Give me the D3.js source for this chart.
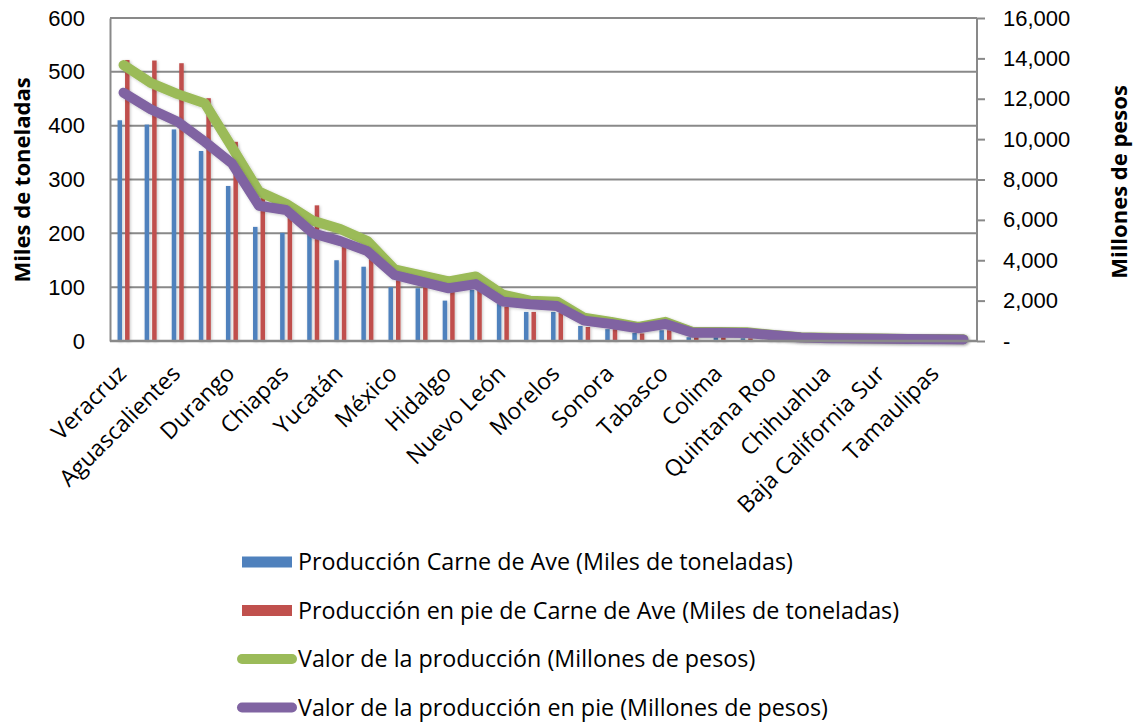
<!DOCTYPE html>
<html>
<head>
<meta charset="utf-8">
<script src="https://cdn.jsdelivr.net/npm/d3@7"></script>
<style>
  body { margin: 0; background: #fff; }
  svg { font-family: "Open Sans", sans-serif; }
</style>
</head>
<body>
<svg id="chart" width="1137" height="723"></svg>
<script>
// Producción de carne de ave por entidad
const states = ["Veracruz", "Jalisco", "Aguascalientes", "Querétaro", "Durango", "Guanajuato", "Chiapas", "Puebla",
    "Yucatán", "Sinaloa", "México", "San Luis Potosí", "Hidalgo", "Michoacán", "Nuevo León", "Coahuila",
    "Morelos", "Guerrero", "Sonora", "Oaxaca", "Tabasco", "Tlaxcala", "Colima", "Nayarit",
    "Quintana Roo", "Zacatecas", "Chihuahua", "Campeche", "Baja California Sur", "Baja California", "Tamaulipas", "Distrito Federal"];

const carne = [410, 402, 393, 353, 288, 212, 201, 200, 150, 138, 100, 98, 75, 95, 69, 54,
    54, 28, 22, 15, 20, 7, 7, 5, 4, 3, 2, 2, 1, 1, 1, 0.5];
const carnePie = [522, 521, 516, 451, 370, 266, 240, 252, 180, 160, 113, 100, 92, 96, 64, 54,
    52, 26, 22, 14, 20, 7, 7, 5, 4, 3, 2, 2, 1, 1, 1, 0.5];
const valor = [13670, 12790, 12230, 11770, 9600, 7400, 6800, 5950, 5550, 4950, 3550, 3250, 2950, 3200, 2300, 2000,
    1950, 1150, 950, 700, 950, 450, 450, 430, 300, 190, 160, 140, 125, 105, 95, 85];
const valorPie = [12300, 11480, 10860, 9870, 8800, 6700, 6490, 5330, 4950, 4450, 3270, 2940, 2610, 2820, 1950, 1820,
    1730, 1010, 840, 630, 840, 410, 410, 400, 280, 170, 140, 120, 110, 95, 85, 75];

const leftTicks = [0, 100, 200, 300, 400, 500, 600];
const rightTicks = [0, 2000, 4000, 6000, 8000, 10000, 12000, 14000, 16000];

const legendItems = [
    { label: "Producción Carne de Ave (Miles de toneladas)", color: "#4F81BD", type: "bar" },
    { label: "Producción en pie de Carne de Ave (Miles de toneladas)", color: "#C0504D", type: "bar" },
    { label: "Valor de la producción (Millones de pesos)", color: "#9BBB59", type: "line" },
    { label: "Valor de la producción en pie (Millones de pesos)", color: "#8064A2", type: "line" }
];

const plot = { left: 110, right: 977, top: 18, bottom: 341 };
const grey = "#898989";

const svg = d3.select("#chart");

const defs = svg.append("defs");
const shadow = defs.append("filter").attr("id", "shadow")
    .attr("x", "-50%").attr("y", "-10%").attr("width", "200%").attr("height", "120%");
shadow.append("feDropShadow")
    .attr("dx", 1).attr("dy", 1).attr("stdDeviation", 1.6)
    .attr("flood-color", "#000").attr("flood-opacity", 0.22);

const x = d3.scaleBand().domain(states).range([plot.left, plot.right]);
const x1 = d3.scaleBand().domain(["carne", "pie"])
    .range([x.bandwidth() / 2 - 6, x.bandwidth() / 2 + 6]).paddingInner(0.4);
const y = d3.scaleLinear().domain([0, 600]).range([plot.bottom, plot.top]);
const y2 = d3.scaleLinear().domain([0, 16000]).range([plot.bottom, plot.top]);

// gridlines
svg.append("g")
    .selectAll("line")
    .data(leftTicks.slice(1))
    .enter().append("line")
    .attr("x1", plot.left).attr("x2", plot.right)
    .attr("y1", d => y(d)).attr("y2", d => y(d))
    .attr("stroke", grey).attr("stroke-width", 2);

// bars
const bars = svg.append("g").attr("filter", "url(#shadow)");
bars.selectAll(".carne")
    .data(states)
    .enter().append("rect")
    .attr("x", (d) => x(d) + x1("carne"))
    .attr("width", x1.bandwidth())
    .attr("y", (d, i) => y(carne[i]))
    .attr("height", (d, i) => y(0) - y(carne[i]))
    .attr("fill", "#4F81BD");
bars.selectAll(".pie")
    .data(states)
    .enter().append("rect")
    .attr("x", (d) => x(d) + x1("pie"))
    .attr("width", x1.bandwidth())
    .attr("y", (d, i) => y(carnePie[i]))
    .attr("height", (d, i) => y(0) - y(carnePie[i]))
    .attr("fill", "#C0504D");

// lines
const line = d3.line()
    .x((d, i) => x(states[i]) + x.bandwidth() / 2)
    .y(d => y2(d));

[[valor, "#9BBB59"], [valorPie, "#8064A2"]].forEach(function ([vals, color]) {
    svg.append("path")
        .datum(vals)
        .attr("fill", "none")
        .attr("stroke", color)
        .attr("stroke-width", 10)
        .attr("stroke-linejoin", "round")
        .attr("stroke-linecap", "round")
        .attr("filter", "url(#shadow)")
        .attr("d", line);
});

// left axis
const yAxis = svg.append("g")
    .attr("transform", `translate(${plot.left},0)`)
    .call(d3.axisLeft(y).tickValues(leftTicks).tickSize(0).tickPadding(25));
yAxis.select(".domain").attr("stroke", grey).attr("stroke-width", 2);
yAxis.selectAll("text").style("font-size", "22px").attr("fill", "#000");

// right axis
const y2Axis = svg.append("g")
    .attr("transform", `translate(${plot.right},0)`)
    .call(d3.axisRight(y2).tickValues(rightTicks).tickSize(8).tickPadding(18)
        .tickFormat(d => d === 0 ? "-" : d3.format(",")(d)));
y2Axis.select(".domain").attr("stroke", grey).attr("stroke-width", 2).attr("d", `M0,${plot.top}V${plot.bottom}`);
y2Axis.selectAll(".tick line").attr("stroke", grey).attr("stroke-width", 2);
y2Axis.selectAll("text").style("font-size", "22px").attr("fill", "#000");

// bottom axis
svg.append("line")
    .attr("x1", plot.left).attr("x2", plot.right)
    .attr("y1", plot.bottom).attr("y2", plot.bottom)
    .attr("stroke", grey).attr("stroke-width", 2.5);

svg.append("g")
    .selectAll("text")
    .data(states.filter((d, i) => i % 2 === 0))
    .enter().append("text")
    .attr("transform", d => `translate(${x(d) + x.bandwidth() / 2 + 4},${plot.bottom + 34}) rotate(-45)`)
    .attr("text-anchor", "end")
    .style("font-size", "23px")
    .text(d => d);

// axis titles
svg.append("text")
    .attr("transform", `translate(30,180) rotate(-90)`)
    .attr("text-anchor", "middle")
    .style("font-size", "22px")
    .style("font-weight", "bold")
    .text("Miles de toneladas");

svg.append("text")
    .attr("transform", `translate(1127,182) rotate(-90)`)
    .attr("text-anchor", "middle")
    .style("font-size", "22px")
    .style("font-weight", "bold")
    .text("Millones de pesos");

// legend
const legend = svg.selectAll(".legend")
    .data(legendItems)
    .enter().append("g")
    .attr("class", "legend")
    .attr("transform", (d, i) => `translate(0,${562 + i * 48.5})`);

legend.filter(d => d.type === "bar").append("rect")
    .attr("x", 242).attr("y", -5.5)
    .attr("width", 50).attr("height", 11)
    .attr("fill", d => d.color);

legend.filter(d => d.type === "line").append("line")
    .attr("x1", 242).attr("x2", 292)
    .attr("stroke", d => d.color)
    .attr("stroke-width", 10)
    .attr("stroke-linecap", "round");

legend.append("text")
    .attr("x", 298)
    .attr("dy", "0.35em")
    .style("font-size", "23.3px")
    .text(d => d.label);
</script>
</body>
</html>
